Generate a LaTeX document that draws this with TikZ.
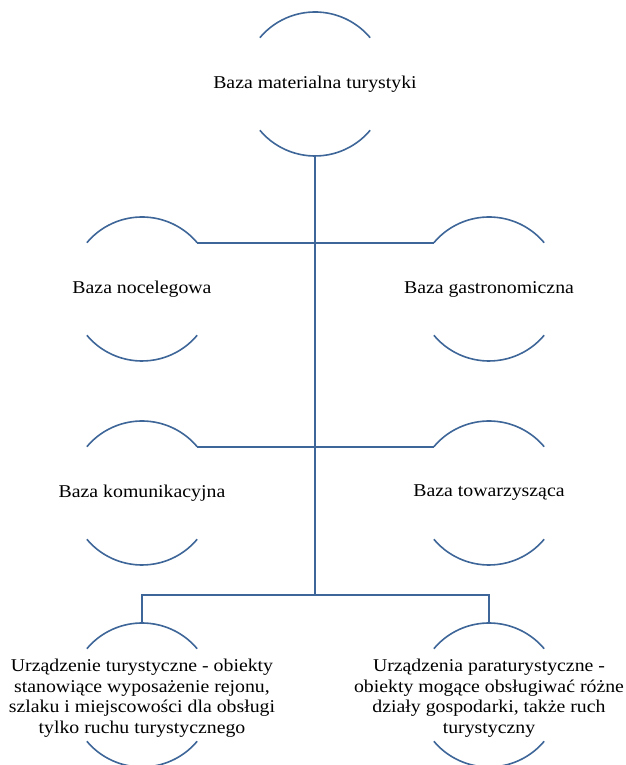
\documentclass[tikz,border=0pt]{standalone}
\usepackage{fontspec}
\setmainfont[FakeStretch=1.1]{Liberation Serif}
\definecolor{linec}{RGB}{62,102,152}
\begin{document}
\begin{tikzpicture}[x=1pt,y=1pt,
  hub/.style={circle,minimum size=144pt,inner sep=0pt,outer sep=0pt,draw=none},
  every label/.style={font=\fontsize{18}{20.5}\selectfont,text=black,align=center,inner sep=0pt},
  arcs/.style={draw=linec,line width=1.6pt},
  link/.style={draw=linec,line width=2pt}]
\useasboundingbox (0,0) rectangle (625,765);
\node[hub,label=center:{Baza materialna turystyki}] (top) at (315,681) {};
\node[hub,label=center:{Baza nocelegowa}] (nl) at (142,476) {};
\node[hub,label=center:{Baza gastronomiczna}] (ng) at (489,476) {};
\node[hub,label=center:{Baza komunikacyjna}] (nk) at (142,272) {};
\node[hub,label=center:{Baza towarzysząca}] (nt) at (489,272) {};
\node[hub,label={[yshift=-3pt]center:{Urządzenie turystyczne - obiekty\\stanowiące wyposażenie rejonu,\\szlaku i miejscowości dla obsługi\\tylko ruchu turystycznego}}] (bl) at (142,70) {};
\node[hub,label={[yshift=-3pt]center:{Urządzenia paraturystyczne -\\obiekty mogące obsługiwać różne\\działy gospodarki, także ruch\\turystyczny}}] (br) at (489,70) {};
\foreach \n in {top,nl,ng,nk,nt,bl,br}{
  \draw[arcs] (\n.140) arc[start angle=140,end angle=40,radius=72pt];
  \draw[arcs] (\n.220) arc[start angle=220,end angle=320,radius=72pt];
}
\coordinate (j) at (315,170);
\draw[link] (top.south) -- (j);
\draw[link] (nl.40) -- (ng.140);
\draw[link] (nk.40) -- (nt.140);
\draw[link] (bl.north) |- (j) -| (br.north);
\end{tikzpicture}
\end{document}
